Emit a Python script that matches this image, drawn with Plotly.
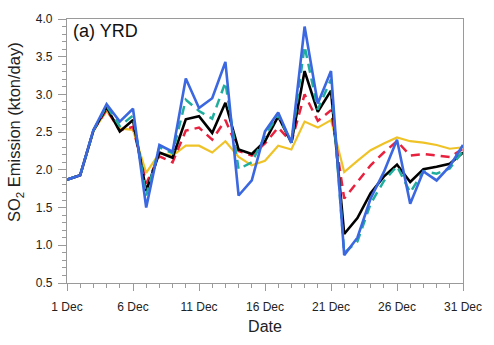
import plotly.graph_objects as go

# Daily SO2 emission over the Yangtze River Delta, December
days = list(range(1, 32))
tick_days = [1, 6, 11, 16, 21, 26, 31]
tick_labels = ["1 Dec", "6 Dec", "11 Dec", "16 Dec", "21 Dec", "26 Dec", "31 Dec"]

yellow_series = [1.87, 1.93, 2.52, 2.78, 2.55, 2.53, 1.96, 2.22, 2.19, 2.32, 2.32, 2.23, 2.38, 2.17, 2.06,
                 2.12, 2.32, 2.27, 2.64, 2.56, 2.66, 1.97, 2.12, 2.26, 2.35, 2.43, 2.38, 2.36, 2.33, 2.28, 2.30]
red_series = [1.87, 1.93, 2.52, 2.80, 2.52, 2.57, 1.82, 2.18, 2.10, 2.52, 2.56, 2.40, 2.66, 2.25, 2.19,
              2.35, 2.56, 2.37, 3.00, 2.65, 2.79, 1.62, 1.84, 2.06, 2.23, 2.38, 2.19, 2.21, 2.19, 2.17, 2.28]
black_series = [1.87, 1.93, 2.52, 2.83, 2.51, 2.66, 1.72, 2.23, 2.16, 2.67, 2.71, 2.49, 2.89, 2.27, 2.21,
                2.38, 2.71, 2.36, 3.31, 2.77, 3.05, 1.15, 1.36, 1.69, 1.91, 2.07, 1.84, 2.01, 2.04, 2.08, 2.23]
teal_series = [1.87, 1.93, 2.52, 2.85, 2.58, 2.72, 1.66, 2.30, 2.22, 2.93, 2.78, 2.68, 3.16, 2.01, 2.10,
               2.45, 2.73, 2.36, 3.64, 2.80, 3.20, 0.90, 1.05, 1.55, 1.85, 2.05, 1.70, 1.98, 1.95, 2.02, 2.25]
blue_series = [1.87, 1.93, 2.53, 2.87, 2.64, 2.81, 1.50, 2.33, 2.24, 3.21, 2.82, 2.95, 3.43, 1.66, 1.86,
               2.51, 2.76, 2.36, 3.90, 2.88, 3.31, 0.87, 1.10, 1.62, 1.97, 2.40, 1.55, 1.98, 1.86, 2.05, 2.33]

series = [
    ("Yellow", yellow_series, "#EFC328", "solid", 2.2),
    ("Red", red_series, "#E8213F", "9px,6px", 2.5),
    ("Black", black_series, "#000000", "solid", 2.6),
    ("Teal", teal_series, "#1FAE9E", "9px,6px", 2.5),
    ("Blue", blue_series, "#3B67E0", "solid", 2.6),
]

fig = go.Figure()
for name, vals, color, dash, width in series:
    fig.add_trace(go.Scatter(
        x=days, y=vals, mode="lines", name=name,
        line=dict(color=color, width=width, dash=dash),
        showlegend=False,
    ))

axis_color = "#9a9a9a"
font_family = "Liberation Sans, Arial, sans-serif"

# plot-area geometry in pixels, used to place the free-standing labels
left, right, top, bottom = 67, 22, 14, 62
plot_w = 494 - left - right
plot_h = 345 - top - bottom

fig.update_layout(
    width=494, height=345,
    margin=dict(l=left, r=right, t=top, b=bottom),
    paper_bgcolor="white", plot_bgcolor="white",
    font=dict(family=font_family, color="#222222", size=12),
    annotations=[
        dict(
            text="(a) YRD", xref="paper", yref="paper", x=0.01, y=1.0,
            xanchor="left", yanchor="top", showarrow=False,
            font=dict(size=18, color="#111111"),
        ),
        dict(
            text="SO<sub>2</sub> Emission (kton/day)", xref="paper", yref="paper",
            x=(14 - left) / plot_w, y=(345 - bottom - 129) / plot_h,
            xanchor="center", yanchor="middle", textangle=-90, showarrow=False,
            font=dict(size=16.5, color="#222222"),
        ),
    ],
)

fig.update_xaxes(
    range=[1, 31], tickvals=tick_days, ticktext=tick_labels,
    showgrid=False, zeroline=False,
    showline=True, linecolor=axis_color, linewidth=1.2, mirror=True,
    ticks="outside", ticklen=7, tickcolor=axis_color, tickwidth=1,
    tickfont=dict(size=12), ticklabelstandoff=5,
    minor=dict(dtick=1, tick0=1, ticks="outside", ticklen=4, tickcolor=axis_color),
    title=dict(text="Date", font=dict(size=16), standoff=8),
)
fig.update_yaxes(
    range=[0.5, 4.0], dtick=0.5, tick0=0.5, tickformat=".1f",
    showgrid=False, zeroline=False,
    showline=True, linecolor=axis_color, linewidth=1.2, mirror=True,
    ticks="outside", ticklen=8, tickcolor=axis_color, tickwidth=1,
    tickfont=dict(size=12), ticklabelstandoff=3,
    minor=dict(dtick=0.1, ticks="outside", ticklen=4, tickcolor=axis_color),
)

fig.write_html("out.html")
